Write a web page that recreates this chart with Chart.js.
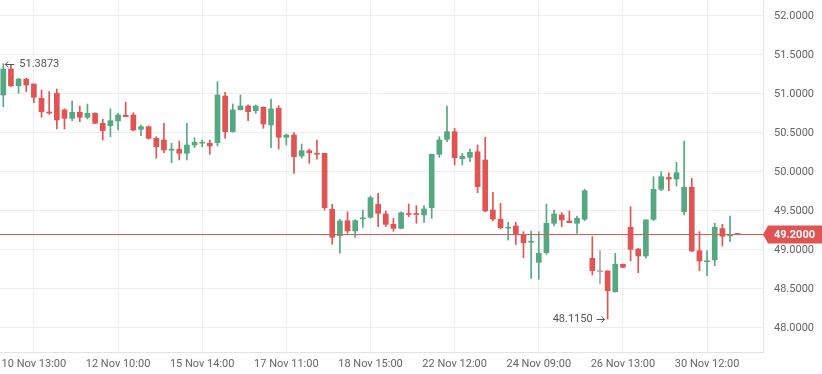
<!DOCTYPE html>
<html><head><meta charset="utf-8">
<script src="https://cdn.jsdelivr.net/npm/chart.js@4/dist/chart.umd.min.js"></script>
<style>html,body{margin:0;padding:0;background:#fff}</style>
</head><body>
<canvas id="c" width="822" height="374"></canvas>
<script>
const openP  = [50.987,51.320,51.106,51.192,51.128,50.945,50.769,51.009,50.795,50.688,50.765,50.701,50.753,50.624,50.594,50.654,50.727,50.731,50.547,50.581,50.432,50.410,50.280,50.290,50.240,50.346,50.370,50.368,50.376,50.974,50.517,50.799,50.846,50.786,50.829,50.603,50.817,50.445,50.474,50.205,50.273,50.240,50.240,49.522,49.183,49.376,49.244,49.400,49.419,49.586,49.462,49.330,49.278,49.465,49.465,49.449,49.543,50.227,50.419,50.517,50.170,50.188,50.260,50.154,49.513,49.394,49.280,49.308,49.192,49.100,48.842,48.965,49.342,49.449,49.372,49.342,49.394,48.894,48.722,48.731,48.465,48.817,49.291,49.013,48.923,49.394,49.778,49.930,49.910,49.491,49.804,48.991,48.850,48.872,49.274,49.180,49.205];
const highP  = [51.3873,51.372,51.200,51.200,51.130,51.051,51.030,51.064,50.810,50.910,50.846,50.872,50.760,50.675,50.810,50.753,50.894,50.760,50.600,50.590,50.453,50.624,50.368,50.397,50.624,50.440,50.410,50.410,51.158,51.022,50.872,50.987,50.860,50.860,50.837,50.936,50.850,50.487,50.504,50.359,50.295,50.410,50.240,49.586,49.394,49.491,49.390,49.513,49.692,49.727,49.500,49.406,49.490,49.590,49.568,49.570,50.230,50.453,50.846,50.560,50.240,50.295,50.346,50.445,49.740,49.599,49.355,49.355,49.235,49.244,49.235,49.590,49.513,49.480,49.500,49.436,49.778,49.171,48.991,48.735,48.958,48.820,49.555,49.020,49.390,49.940,50.004,49.990,50.124,50.397,49.919,49.235,48.991,49.342,49.330,49.436,49.210];
const lowP   = [50.837,51.094,51.009,51.030,50.889,50.701,50.740,50.551,50.551,50.658,50.645,50.680,50.620,50.410,50.453,50.538,50.710,50.526,50.465,50.420,50.176,50.248,50.119,50.154,50.154,50.312,50.324,50.227,50.333,50.432,50.510,50.795,50.658,50.753,50.560,50.312,50.295,50.346,49.983,50.176,50.111,50.163,49.513,49.073,48.958,49.214,49.163,49.291,49.406,49.300,49.300,49.240,49.270,49.427,49.342,49.355,49.406,50.188,50.390,50.090,50.090,50.132,49.735,49.490,49.372,49.270,49.128,49.073,48.901,48.637,48.624,48.945,49.310,49.300,49.350,49.213,49.376,48.679,48.564,48.1150,48.460,48.775,48.863,48.709,48.894,49.376,49.760,49.760,49.820,49.449,48.980,48.735,48.671,48.799,49.051,49.106,49.200];
const closeP = [51.320,51.106,51.192,51.115,50.958,50.773,50.755,50.667,50.688,50.765,50.701,50.753,50.624,50.530,50.658,50.731,50.710,50.538,50.581,50.432,50.325,50.282,50.290,50.240,50.346,50.381,50.380,50.333,50.987,50.517,50.795,50.846,50.773,50.846,50.615,50.808,50.445,50.474,50.196,50.273,50.247,50.228,49.543,49.163,49.372,49.244,49.376,49.410,49.671,49.470,49.329,49.278,49.478,49.455,49.455,49.526,50.227,50.410,50.517,50.183,50.200,50.253,49.812,49.500,49.397,49.286,49.290,49.201,49.094,49.110,48.958,49.342,49.462,49.385,49.350,49.406,49.760,48.735,48.722,48.478,48.817,48.778,49.009,48.923,49.385,49.778,49.940,49.910,49.991,49.804,48.987,48.859,48.860,49.291,49.176,49.190,49.200];

const tickIndex  = [4, 15, 26, 37, 48, 59, 70, 81, 92];
const tickLabels = ['10 Nov 13:00','12 Nov 10:00','15 Nov 14:00','17 Nov 11:00','18 Nov 15:00','22 Nov 12:00','24 Nov 09:00','26 Nov 13:00','30 Nov 12:00'];
const yTickValues = [48, 48.5, 49, 49.5, 50, 50.5, 51, 51.5, 52];
const lastPrice = 49.2;
const highMark = {index: 0, value: 51.3873};
const lowMark  = {index: 79, value: 48.1150};

const GREEN = '#55a882', RED = '#e05454', GRAY = '#a8a8a8';
const idx = openP.map((_, i) => i);
const colorOf = i => closeP[i] > openP[i] ? GREEN : (closeP[i] < openP[i] ? RED : GRAY);
const candleColors = idx.map(colorOf);

const overlay = {
  id: 'overlay',
  afterDatasetsDraw(chart) {
    const {ctx, chartArea, scales} = chart;
    const xs = scales.x, ys = scales.y;
    const py = Math.round(ys.getPixelForValue(lastPrice)) + 0.5;
    ctx.save();
    ctx.strokeStyle = '#e05a5a';
    ctx.lineWidth = 1;
    ctx.beginPath();
    ctx.moveTo(chartArea.left, py);
    ctx.lineTo(chartArea.right, py);
    ctx.stroke();
    const r = chartArea.right;
    ctx.fillStyle = RED;
    ctx.beginPath();
    ctx.moveTo(r, py);
    ctx.lineTo(r + 5, py - 9);
    ctx.lineTo(chart.width, py - 9);
    ctx.lineTo(chart.width, py + 9);
    ctx.lineTo(r + 5, py + 9);
    ctx.closePath();
    ctx.fill();
    ctx.fillStyle = '#ffffff';
    ctx.font = 'bold 11px Roboto';
    ctx.textBaseline = 'middle';
    ctx.textAlign = 'left';
    ctx.fillText(lastPrice.toFixed(4), r + 11, py + 0.5);

    ctx.strokeStyle = '#555';
    ctx.fillStyle = '#555';
    ctx.font = '11px Roboto';
    const hx = xs.getPixelForValue(highMark.index), hy = Math.round(ys.getPixelForValue(highMark.value)) + 0.5;
    ctx.beginPath();
    ctx.moveTo(hx + 2, hy); ctx.lineTo(hx + 11, hy);
    ctx.moveTo(hx + 5, hy - 3); ctx.lineTo(hx + 2, hy); ctx.lineTo(hx + 5, hy + 3);
    ctx.stroke();
    ctx.textAlign = 'left';
    ctx.fillText(highMark.value.toFixed(4), hx + 16, hy);

    const lx = xs.getPixelForValue(lowMark.index), ly = Math.round(ys.getPixelForValue(lowMark.value)) + 0.5;
    ctx.beginPath();
    ctx.moveTo(lx - 11, ly); ctx.lineTo(lx - 3, ly);
    ctx.moveTo(lx - 6, ly - 3); ctx.lineTo(lx - 3, ly); ctx.lineTo(lx - 6, ly + 3);
    ctx.stroke();
    ctx.textAlign = 'right';
    ctx.fillText(lowMark.value.toFixed(4), lx - 15, ly);
    ctx.restore();
  }
};

new Chart(document.getElementById('c'), {
  type: 'bar',
  data: {
    datasets: [
      {
        label: 'body',
        data: idx.map(i => ({x: i, y: [openP[i], closeP[i]]})),
        backgroundColor: candleColors,
        borderWidth: 0,
        barThickness: 5,
        minBarLength: 1,
        grouped: false,
        order: 1
      },
      {
        label: 'wick',
        data: idx.map(i => ({x: i, y: [lowP[i], highP[i]]})),
        backgroundColor: candleColors,
        borderWidth: 0,
        barThickness: 1,
        grouped: false,
        order: 2
      }
    ]
  },
  options: {
    responsive: false,
    animation: false,
    events: [],
    layout: {padding: 0},
    plugins: {legend: {display: false}, tooltip: {enabled: false}},
    scales: {
      x: {
        type: 'linear',
        min: -0.43,
        max: 99.31,
        offset: false,
        grid: {offset: false, color: '#eeeeee', drawTicks: false},
        border: {display: true, color: '#e3e3e3'},
        afterBuildTicks: s => { s.ticks = tickIndex.map(v => ({value: v})); },
        afterFit: s => { s.height = 22; s.paddingLeft = 0; s.paddingRight = 0; },
        ticks: {
          autoSkip: false, maxRotation: 0, padding: 6,
          color: '#666', font: {family: 'Roboto', size: 11},
          callback: v => { const k = tickIndex.indexOf(v); return k >= 0 ? tickLabels[k] : ''; }
        }
      },
      y: {
        type: 'linear',
        position: 'right',
        min: 47.6923,
        max: 52.2051,
        grid: {color: '#eeeeee', drawTicks: false},
        border: {display: true, color: '#e3e3e3'},
        afterBuildTicks: s => { s.ticks = yTickValues.map(v => ({value: v})); },
        afterFit: s => { s.width = 59; s.paddingTop = 0; s.paddingBottom = 0; },
        ticks: {
          padding: 11, color: '#666', font: {family: 'Roboto', size: 11},
          callback: v => Number(v).toFixed(4)
        }
      }
    }
  },
  plugins: [overlay]
});
</script>
</body></html>
